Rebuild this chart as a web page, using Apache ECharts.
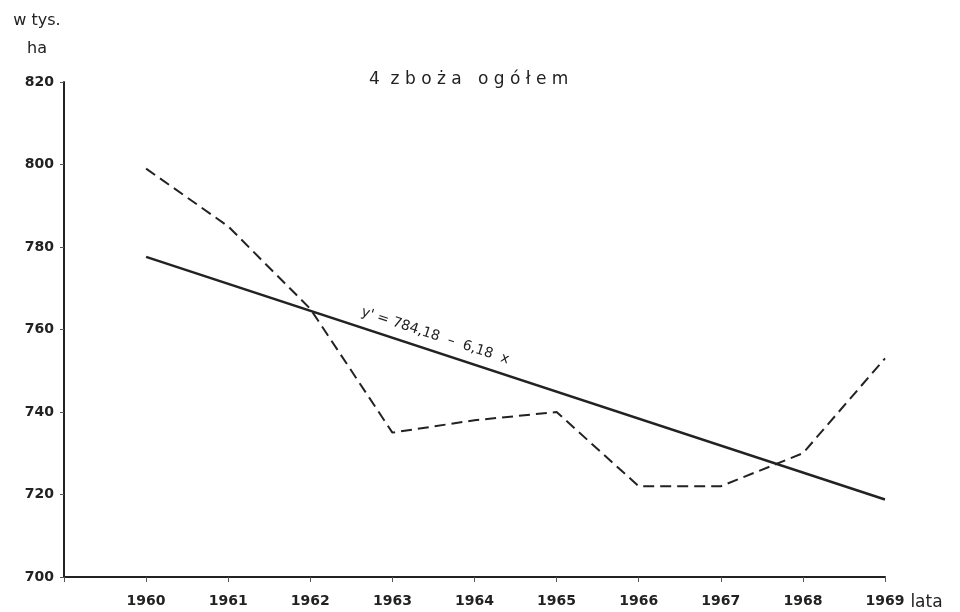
<!DOCTYPE html>
<html>
<head>
<meta charset="utf-8">
<script src="https://cdn.jsdelivr.net/npm/echarts@6/dist/echarts.min.js"></script>
<style>
html, body { margin: 0; padding: 0; background: #fff; }
#chart { width: 960px; height: 612px; }
</style>
</head>
<body>
<div id="chart"></div>
<script>
// lata (x) i powierzchnia w tys. ha (y)
const years = [1960, 1961, 1962, 1963, 1964, 1965, 1966, 1967, 1968, 1969];
const area = [799, 785, 765, 735, 738, 740, 722, 722, 730, 753];

// linia trendu (koniec i początek)
const trendYears = [1960, 1969];
const trendValues = [777.6, 718.8];

const yTicks = [700, 720, 740, 760, 780, 800, 820];

const titleText = "4  z b o ż a   o g ó ł e m";
const unitText = "w tys.\nha";
const equationText = "y' = 784,18  –  6,18  x";

const ink = "#222";
const font = "DejaVu Sans";

let chart = echarts.init(document.getElementById("chart"), null, { renderer: "canvas" });

let option = {
    backgroundColor: "#fff",
    animation: false,
    title: {
        text: titleText,
        left: 364,
        top: 66,
        textStyle: {
            fontFamily: font,
            fontSize: 17,
            fontWeight: "normal",
            color: ink
        }
    },
    grid: {
        left: 64,
        right: 75,
        top: 82,
        bottom: 35
    },
    xAxis: {
        type: "value",
        min: 1959,
        max: 1969,
        interval: 1,
        splitLine: { show: false },
        axisLine: { lineStyle: { color: ink, width: 2 } },
        axisTick: { length: 5, lineStyle: { color: "#555", width: 1 } },
        axisLabel: {
            margin: 17,
            fontFamily: font,
            fontSize: 14,
            fontWeight: "bold",
            color: ink,
            formatter: function (v) {
                return years.indexOf(v) >= 0 ? String(v) : "";
            }
        },
        name: "lata",
        nameLocation: "end",
        nameGap: 22,
        nameTextStyle: {
            fontFamily: font,
            fontSize: 17,
            color: ink,
            verticalAlign: "top",
            padding: [17, 0, 0, 0]
        }
    },
    yAxis: {
        type: "value",
        min: yTicks[0],
        max: yTicks[yTicks.length - 1],
        interval: 20,
        splitLine: { show: false },
        axisLine: { show: true, lineStyle: { color: ink, width: 2 } },
        axisTick: { show: true, length: 4, lineStyle: { color: "#555", width: 1 } },
        axisLabel: {
            margin: 10,
            fontFamily: font,
            fontSize: 14,
            fontWeight: "bold",
            color: ink
        }
    },
    series: [
        {
            name: "powierzchnia",
            type: "line",
            data: years.map((y, i) => [y, area[i]]),
            symbol: "none",
            lineStyle: { color: ink, width: 2, type: [11, 6] }
        },
        {
            name: "trend",
            type: "line",
            data: trendYears.map((y, i) => [y, trendValues[i]]),
            symbol: "none",
            lineStyle: { color: ink, width: 2.5 }
        }
    ]
};

chart.setOption(option);

// napis jednostki i równanie trendu ułożone wzdłuż linii
let p1 = chart.convertToPixel({ gridIndex: 0 }, [trendYears[0], trendValues[0]]);
let p2 = chart.convertToPixel({ gridIndex: 0 }, [trendYears[1], trendValues[1]]);
let ang = Math.atan2(p2[1] - p1[1], p2[0] - p1[0]);
let t = 0.385;
let mid = [p1[0] + (p2[0] - p1[0]) * t, p1[1] + (p2[1] - p1[1]) * t];
let off = 15;
let pos = [mid[0] + Math.sin(ang) * off, mid[1] - Math.cos(ang) * off];

chart.setOption({
    graphic: [
        {
            type: "text",
            x: 37,
            y: 7,
            style: {
                text: unitText,
                align: "center",
                verticalAlign: "top",
                font: "16px '" + font + "'",
                lineHeight: 28,
                fill: ink
            }
        },
        {
            type: "text",
            x: pos[0],
            y: pos[1],
            rotation: -ang,
            style: {
                text: equationText,
                align: "center",
                verticalAlign: "middle",
                font: "14px '" + font + "'",
                fill: ink
            }
        }
    ]
});

window.addEventListener("resize", function () {
    chart.resize();
});
</script>
</body>
</html>
